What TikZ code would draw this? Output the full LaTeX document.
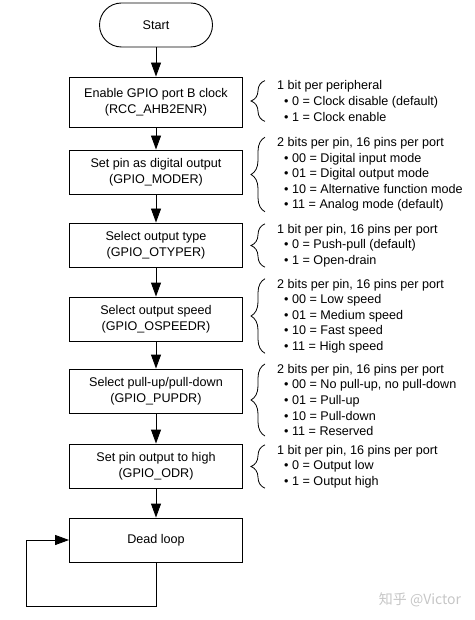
\documentclass[tikz,border=0pt]{standalone}
\usepackage{fontspec}
\setmainfont{Liberation Sans}
\newfontfamily\cjk{Noto Sans CJK SC}
\usetikzlibrary{arrows.meta,decorations.pathreplacing}

\begin{document}
\begin{tikzpicture}[x=1pt,y=-1pt,>={Triangle[length=14pt,width=10pt]},
  box/.style={draw,line width=0.9pt,minimum width=173pt,align=center,inner sep=2pt,font=\fontsize{12.6}{16.5}\selectfont},
  note/.style={anchor=west,align=left,inner sep=0pt,font=\fontsize{12.6}{15.6}\selectfont},
  curly/.style={decorate,decoration={brace,amplitude=14pt},line width=0.8pt},
  flow/.style={->,line width=0.9pt}]
  \useasboundingbox (0,0) rectangle (474,620);
  % flow chart
  \node[box,rounded corners=22pt,minimum width=113pt,minimum height=44pt] (start) at (156,25) {Start};
  \foreach \n/\y/\h/\t in {rcc/102/50/{Enable GPIO port B clock\\(RCC\_AHB2ENR)},
      moder/172/44/{Set pin as digital output\\(GPIO\_MODER)},
      otyper/245/44/{Select output type\\(GPIO\_OTYPER)},
      ospeedr/319/44/{Select output speed\\(GPIO\_OSPEEDR)},
      pupdr/391/44/{Select pull-up/pull-down\\(GPIO\_PUPDR)},
      odr/466/44/{Set pin output to high\\(GPIO\_ODR)},
      loop/540/44/{Dead loop}}
    \node[box,minimum height=\h pt] (\n) at (156,\y) {\t};
  \foreach \a/\b in {start/rcc,rcc/moder,moder/otyper,otyper/ospeedr,ospeedr/pupdr,pupdr/odr,odr/loop}
    \draw[flow] (\a) -- (\b);
  \coordinate (corner) at (26,606);
  \draw[flow] (loop.south) |- (corner) |- (loop.west);
  % register notes
  \foreach \n/\y/\t in {rcc/101/{1 bit per peripheral\\\hspace*{7pt}• 0 = Clock disable (default)\\\hspace*{7pt}• 1 = Clock enable},
      moder/174.5/{2 bits per pin, 16 pins per port\\\hspace*{7pt}• 00 = Digital input mode\\\hspace*{7pt}• 01 = Digital output mode\\\hspace*{7pt}• 10 = Alternative function mode\\\hspace*{7pt}• 11 = Analog mode (default)},
      otyper/245.5/{1 bit per pin, 16 pins per port\\\hspace*{7pt}• 0 = Push-pull (default)\\\hspace*{7pt}• 1 = Open-drain},
      ospeedr/316/{2 bits per pin, 16 pins per port\\\hspace*{7pt}• 00 = Low speed\\\hspace*{7pt}• 01 = Medium speed\\\hspace*{7pt}• 10 = Fast speed\\\hspace*{7pt}• 11 = High speed},
      pupdr/400/{2 bits per pin, 16 pins per port\\\hspace*{7pt}• 00 = No pull-up, no pull-down\\\hspace*{7pt}• 01 = Pull-up\\\hspace*{7pt}• 10 = Pull-down\\\hspace*{7pt}• 11 = Reserved},
      odr/466.5/{1 bit per pin, 16 pins per port\\\hspace*{7pt}• 0 = Output low\\\hspace*{7pt}• 1 = Output high}}
  {
    \node[note] (n\n) at (277,\y) {\t};
    \draw[curly] ([xshift=-12pt]n\n.south west) -- ([xshift=-12pt]n\n.north west);
  }
  \node[text=gray!45,font=\cjk\fontsize{14}{14}\selectfont] (mark) at (420,600) {知乎 @Victor};
\end{tikzpicture}
\end{document}
